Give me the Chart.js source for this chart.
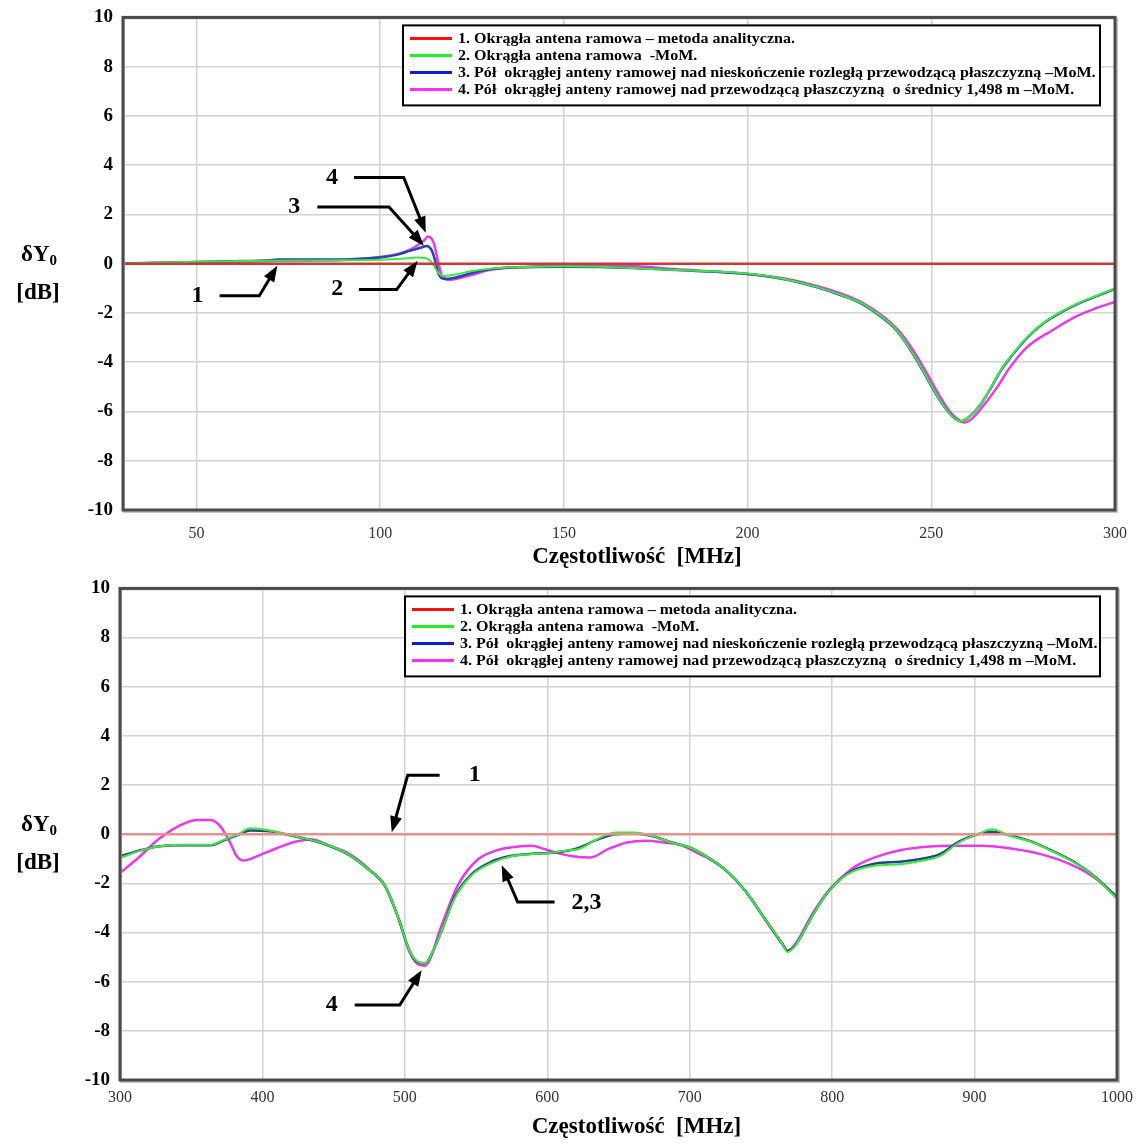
<!DOCTYPE html>
<html lang="pl">
<head>
<meta charset="utf-8">
<title>δY0 – okrągła antena ramowa</title>
<script src="https://cdn.jsdelivr.net/npm/chart.js@4.4.1/dist/chart.umd.min.js"></script>
<style>
  html, body { margin: 0; padding: 0; background: #fff; }
  #wrap { position: relative; width: 1141px; height: 1144px; overflow: hidden; }
  canvas { display: block; position: absolute; left: 0; }
  #chartTop { top: -4px; }
  #chartBottom { top: 567px; }
</style>
</head>
<body>
<div id="wrap">
  <canvas id="chartTop" width="1141" height="579"></canvas>
  <canvas id="chartBottom" width="1141" height="577"></canvas>
</div>
<script>
var legendLabels = [
  '1. Okrągła antena ramowa – metoda analityczna.',
  '2. Okrągła antena ramowa  -MoM.',
  '3. Pół  okrągłej anteny ramowej nad nieskończenie rozległą przewodzącą płaszczyzną –MoM.',
  '4. Pół  okrągłej anteny ramowej nad przewodzącą płaszczyzną  o średnicy 1,498 m –MoM.'
];
var yTicks = [-10, -8, -6, -4, -2, 0, 2, 4, 6, 8, 10];
var topTicksX = [50, 100, 150, 200, 250, 300];
var bottomTicksX = [300, 400, 500, 600, 700, 800, 900, 1000];

// --- górny wykres, 30..300 MHz ---
var topRedF = [30, 300];
var topRedDb = [0, 0];
var topGreenF = [30,40,50,60,70,80,90,100,106,110,112.5,114,115.5,117,120,125,130,140,150,160,172,185,200,210,219,226,231,236,240,244,248,251,254,256.5,258,260,263,266,269,272,276,281,286,290,295,300];
var topGreenDb = [0,0.05,0.08,0.1,0.12,0.13,0.14,0.16,0.2,0.25,0.22,0.05,-0.3,-0.5,-0.45,-0.3,-0.2,-0.13,-0.1,-0.12,-0.2,-0.28,-0.4,-0.62,-0.95,-1.3,-1.6,-2.1,-2.6,-3.4,-4.4,-5.2,-5.9,-6.3,-6.4,-6.25,-5.8,-5.1,-4.3,-3.7,-3.0,-2.35,-1.9,-1.6,-1.3,-1.0];
var topBlueF = [30,40,50,60,70,72,80,90,95,101,105,108,111,112.7,114,115,116,117.5,120,124.5,130,140,150,160,172,185,200,210,219,226,231,236,240,244,248,251,254,256.5,258,260,263,266,269,272,276,281,286,290,295,300];
var topBlueDb = [0,0.04,0.07,0.1,0.14,0.17,0.17,0.17,0.2,0.27,0.38,0.52,0.65,0.72,0.55,0.1,-0.45,-0.62,-0.58,-0.4,-0.22,-0.14,-0.12,-0.13,-0.2,-0.29,-0.42,-0.63,-0.96,-1.31,-1.62,-2.12,-2.62,-3.42,-4.42,-5.22,-5.9,-6.3,-6.4,-6.25,-5.8,-5.1,-4.32,-3.72,-3.02,-2.37,-1.92,-1.62,-1.32,-1.02];
var topMagentaF = [30,40,50,60,70,80,90,95.5,102.7,107,110,112,113,114.5,116,117,119,124.5,130,140,150,160,170,180,200,210,220,227,232,237,241,245,249,252,255,257.5,259,261,264,268,271,276,283,290,295,300];
var topMagentaDb = [0,0.03,0.06,0.08,0.1,0.12,0.15,0.2,0.33,0.5,0.73,0.95,1.1,0.87,-0.07,-0.55,-0.65,-0.47,-0.25,-0.12,-0.08,-0.07,-0.1,-0.22,-0.42,-0.6,-0.95,-1.3,-1.65,-2.15,-2.7,-3.5,-4.5,-5.3,-6.0,-6.35,-6.45,-6.3,-5.8,-5.0,-4.3,-3.4,-2.7,-2.1,-1.8,-1.55];

// --- dolny wykres, 300..1000 MHz ---
var botRedF = [300, 1000];
var botRedDb = [0, 0];
var botF = [300,312.7,326.6,342.8,363.7,373,382,391.4,405,423.8,442,461,474.8,486,496,503,509.5,514.3,520.2,527.4,534.5,546.4,560.7,575,589.3,603.6,615,622.3,635,648,661,674,687,700,713,726,739,752,765,768.7,775,785.5,796,811,829.5,847.7,863,876,889,902,912.4,925,941,954,972,985,998,1000];
var botGreenDb = [-0.97,-0.7,-0.5,-0.43,-0.43,-0.23,-0.03,0.24,0.15,-0.1,-0.36,-0.84,-1.45,-2.1,-3.5,-4.7,-5.2,-5.25,-4.7,-3.7,-2.66,-1.7,-1.18,-0.9,-0.81,-0.75,-0.65,-0.6,-0.2,0.07,0.07,-0.07,-0.34,-0.54,-0.95,-1.49,-2.3,-3.38,-4.46,-4.8,-4.46,-3.38,-2.43,-1.62,-1.28,-1.22,-1.08,-0.88,-0.34,0.0,0.2,-0.07,-0.34,-0.68,-1.22,-1.76,-2.5,-2.6];
var botBlueDb = [-0.9,-0.68,-0.5,-0.45,-0.45,-0.25,-0.05,0.15,0.12,-0.1,-0.37,-0.85,-1.45,-2.1,-3.5,-4.7,-5.22,-5.25,-4.7,-3.7,-2.6,-1.65,-1.12,-0.88,-0.8,-0.75,-0.66,-0.55,-0.22,0.0,0.03,-0.08,-0.33,-0.54,-0.95,-1.49,-2.3,-3.38,-4.46,-4.75,-4.45,-3.38,-2.43,-1.6,-1.2,-1.12,-1.0,-0.8,-0.3,0.0,0.1,-0.05,-0.32,-0.66,-1.2,-1.75,-2.45,-2.55];
var botMagentaF = [300,312.7,326.6,340.5,354,363.7,370.6,377.5,382,386.8,396,410,423.8,435,445,461,474.8,486,496,503,509.5,514.3,519,524,527.4,537,551,565.5,579.8,589,598,606,618,630,643,656,669,682,694,708,713,726,739,752,765,768.7,775,785.5,796,807,816.6,829.5,847.7,868.4,884,904.9,920.5,946.4,967,985,1000];
var botMagentaDb = [-1.58,-0.97,-0.23,0.31,0.58,0.58,0.31,-0.36,-0.9,-1.07,-0.9,-0.57,-0.3,-0.22,-0.42,-0.8,-1.42,-2.1,-3.5,-4.75,-5.3,-5.35,-4.9,-4.0,-3.47,-2.1,-1.04,-0.64,-0.5,-0.47,-0.6,-0.75,-0.9,-0.95,-0.6,-0.34,-0.27,-0.34,-0.45,-0.84,-0.97,-1.5,-2.3,-3.38,-4.46,-4.75,-4.4,-3.3,-2.4,-1.75,-1.3,-0.95,-0.65,-0.5,-0.47,-0.47,-0.54,-0.81,-1.22,-1.8,-2.6];

// opisy krzywych (strzałki), w jednostkach osi [MHz, dB]
var topNotes = [
  { label: '4', at: [86.9, 3.5], path: [[92.9, 3.5], [106.4, 3.5], [112.4, 1.26]] },
  { label: '3', at: [76.6, 2.3], path: [[82.9, 2.3], [102.4, 2.3], [111.9, 0.73]] },
  { label: '1', at: [50.3, -1.3], path: [[56.3, -1.3], [67.1, -1.3], [72.0, -0.08]] },
  { label: '2', at: [88.3, -1.0], path: [[94.2, -1.05], [104.5, -1.05], [110.2, 0.12]] }
];
var bottomNotes = [
  { label: '1', at: [549, 2.4], path: [[524.4, 2.4], [502, 2.4], [490.8, 0.08]] },
  { label: '2,3', at: [627.6, -2.8], path: [[605.1, -2.76], [579.2, -2.76], [568, -1.26]] },
  { label: '4', at: [448.7, -6.95], path: [[464.8, -6.95], [496.4, -6.95], [511.8, -5.53]] }
];

var serif = "'Liberation Serif', 'Times New Roman', serif";

function pts(f, d) {
  return f.map(function(x, i) { return { x: x, y: d[i] }; });
}

function line(data, color, width) {
  return {
    data: data,
    borderColor: color,
    borderWidth: width,
    pointRadius: 0,
    fill: false,
    cubicInterpolationMode: 'monotone'
  };
}

// ramka wykresu
var framePlugin = {
  id: 'frame',
  afterDraw: function(chart) {
    var a = chart.chartArea, ctx = chart.ctx;
    ctx.save();
    ctx.strokeStyle = '#c4c4c4';
    ctx.lineWidth = 2;
    ctx.strokeRect(a.left + 1, a.top + 1, a.right - a.left + 1, a.bottom - a.top + 1);
    ctx.strokeStyle = '#4a4a4a';
    ctx.lineWidth = 3;
    ctx.strokeRect(a.left, a.top, a.right - a.left, a.bottom - a.top);
    ctx.restore();
  }
};

// legenda w ramce
var legendBoxPlugin = {
  id: 'legendBox',
  afterDatasetsDraw: function(chart, args, o) {
    var ctx = chart.ctx, a = chart.chartArea;
    var x = a.left + o.dx, y = a.top + o.dy;
    ctx.save();
    ctx.fillStyle = '#fff';
    ctx.fillRect(x, y, o.w, o.h);
    ctx.strokeStyle = '#000';
    ctx.lineWidth = 2;
    ctx.strokeRect(x, y, o.w, o.h);
    ctx.textBaseline = 'middle';
    legendLabels.forEach(function(txt, i) {
      var ry = y + 13 + i * 17;
      ctx.strokeStyle = o.colors[i];
      ctx.lineWidth = 3;
      ctx.beginPath();
      ctx.moveTo(x + 7, ry);
      ctx.lineTo(x + 49, ry);
      ctx.stroke();
      ctx.save();
      ctx.font = 'bold 15px ' + serif;
      ctx.fillStyle = '#000';
      ctx.translate(x + 55, ry + 1);
      ctx.scale(o.sx, 1);
      ctx.fillText(txt, 0, 0);
      ctx.restore();
    });
    ctx.restore();
  }
};

// numery krzywych ze strzałkami
var notesPlugin = {
  id: 'notes',
  afterDatasetsDraw: function(chart, args, o) {
    var xs = chart.scales.x, ys = chart.scales.y, ctx = chart.ctx;
    ctx.save();
    ctx.fillStyle = '#000';
    ctx.strokeStyle = '#000';
    ctx.font = 'bold 24px ' + serif;
    ctx.textAlign = 'center';
    ctx.textBaseline = 'middle';
    o.items.forEach(function(n) {
      var p = n.path.map(function(q) { return [xs.getPixelForValue(q[0]), ys.getPixelForValue(q[1])]; });
      var a = p[p.length - 2], b = p[p.length - 1];
      var ang = Math.atan2(b[1] - a[1], b[0] - a[0]);
      var head = 16;
      var ex = b[0] - Math.cos(ang) * (head - 2), ey = b[1] - Math.sin(ang) * (head - 2);
      ctx.lineWidth = 3;
      ctx.beginPath();
      ctx.moveTo(p[0][0], p[0][1]);
      for (var i = 1; i < p.length - 1; i++) ctx.lineTo(p[i][0], p[i][1]);
      ctx.lineTo(ex, ey);
      ctx.stroke();
      ctx.beginPath();
      ctx.moveTo(b[0], b[1]);
      ctx.lineTo(b[0] - Math.cos(ang) * head - Math.sin(ang) * 6, b[1] - Math.sin(ang) * head + Math.cos(ang) * 6);
      ctx.lineTo(b[0] - Math.cos(ang) * head + Math.sin(ang) * 6, b[1] - Math.sin(ang) * head - Math.cos(ang) * 6);
      ctx.closePath();
      ctx.fill();
      ctx.fillText(n.label, xs.getPixelForValue(n.at[0]), ys.getPixelForValue(n.at[1]));
    });
    ctx.restore();
  }
};

// opisy osi: δY0 [dB] i Częstotliwość [MHz]
var axisTitlesPlugin = {
  id: 'axisTitles',
  afterDraw: function(chart) {
    var ctx = chart.ctx, a = chart.chartArea;
    var y0 = chart.scales.y.getPixelForValue(0);
    ctx.save();
    ctx.fillStyle = '#000';
    ctx.textBaseline = 'middle';
    ctx.font = 'bold 23px ' + serif;
    var w1 = ctx.measureText('δY').width;
    ctx.font = 'bold 15px ' + serif;
    var w2 = ctx.measureText('0').width;
    var sx = 39 - (w1 + w2) / 2;
    ctx.font = 'bold 23px ' + serif;
    ctx.fillText('δY', sx, y0 - 9);
    ctx.font = 'bold 15px ' + serif;
    ctx.fillText('0', sx + w1, y0 - 3);
    ctx.font = 'bold 23px ' + serif;
    ctx.textAlign = 'center';
    ctx.fillText('[dB]', 38, y0 + 29);
    ctx.fillText('Częstotliwość  [MHz]', (a.left + a.right) / 2 + 18, a.bottom + 47);
    ctx.restore();
  }
};

function makeChart(id, cfg) {
  return new Chart(document.getElementById(id), {
    type: 'line',
    data: { datasets: cfg.datasets },
    options: {
      responsive: false,
      animation: false,
      devicePixelRatio: 1,
      layout: { padding: { top: cfg.top, right: cfg.right, bottom: 0, left: 0 } },
      plugins: {
        legend: { display: false },
        tooltip: { enabled: false },
        legendBox: { dx: cfg.legendDx, dy: 8, w: cfg.legendW, h: 80, sx: 1.07, colors: ['#ff1010', '#22ee22', '#1020c8', '#ff30ff'] },
        notes: { items: cfg.notes }
      },
      scales: {
        x: {
          type: 'linear',
          min: cfg.xMin,
          max: cfg.xMax,
          afterBuildTicks: function(s) { s.ticks = cfg.xTicks.map(function(v) { return { value: v }; }); },
          afterFit: function(s) { s.height = cfg.xHeight; },
          grid: { color: '#d2d2d2', lineWidth: 1.5, drawTicks: false },
          border: { display: false },
          ticks: {
            padding: cfg.xPad, color: '#333', font: { family: serif, size: 16 }, maxRotation: 0,
            callback: function(v) { return String(v); }
          }
        },
        y: {
          min: -10,
          max: 10,
          afterBuildTicks: function(s) { s.ticks = yTicks.map(function(v) { return { value: v }; }); },
          afterFit: function(s) { s.width = cfg.left; },
          grid: { color: '#d2d2d2', lineWidth: 1.5, drawTicks: false },
          border: { display: false },
          ticks: { padding: 10, color: '#000', font: { family: serif, size: 19, weight: 'bold' } }
        }
      }
    },
    plugins: [legendBoxPlugin, notesPlugin, framePlugin, axisTitlesPlugin]
  });
}

makeChart('chartTop', {
  datasets: [
    line(pts(topRedF, topRedDb), '#cc3838', 2.5),
    line(pts(topGreenF, topGreenDb), '#3de83d', 2),
    line(pts(topBlueF, topBlueDb), '#2545b0', 2.5),
    line(pts(topMagentaF, topMagentaDb), '#e83ae8', 2.5)
  ],
  notes: topNotes,
  xMin: 30, xMax: 300, xTicks: topTicksX,
  left: 123, right: 22, top: 17, xHeight: 65, xPad: 14,
  legendDx: 280, legendW: 697
});

makeChart('chartBottom', {
  datasets: [
    line(pts(botRedF, botRedDb), '#e89090', 2.5),
    line(pts(botF, botGreenDb), '#3de83d', 2),
    line(pts(botF, botBlueDb), '#25458a', 2.5),
    line(pts(botMagentaF, botMagentaDb), '#e83ae8', 2.5)
  ],
  notes: bottomNotes,
  xMin: 300, xMax: 1000, xTicks: bottomTicksX,
  left: 120, right: 23, top: 13, xHeight: 64, xPad: 8,
  legendDx: 285, legendW: 695
});
</script>
</body>
</html>
